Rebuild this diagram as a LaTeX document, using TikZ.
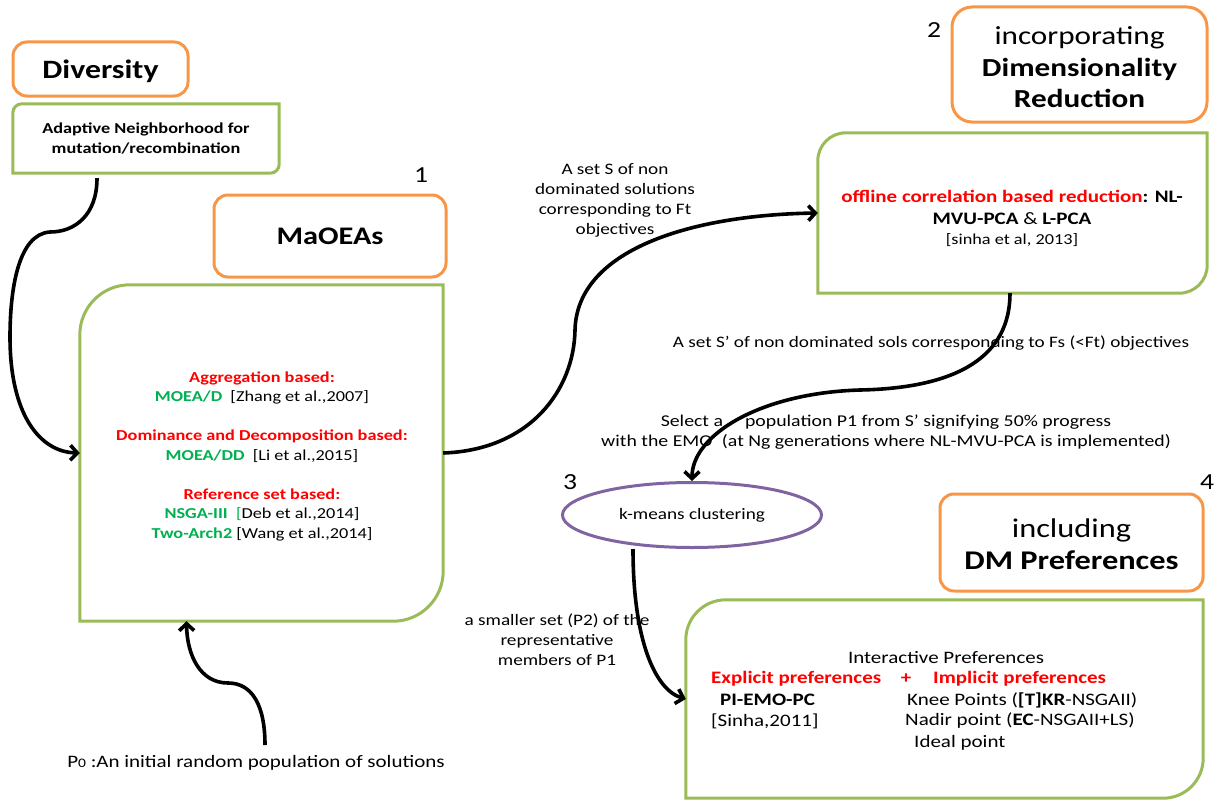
\documentclass[tikz,border=0pt]{standalone}
\usepackage{fontspec}
\setmainfont{Carlito}[FakeStretch=1.2]
\usetikzlibrary{arrows.meta,shapes.geometric,calc}
\definecolor{orangec}{HTML}{F79646}
\definecolor{greenc}{HTML}{9BBB59}
\definecolor{purplec}{HTML}{8064A2}
\definecolor{redc}{HTML}{FF0000}
\definecolor{gtext}{HTML}{00B050}
\newcommand\fsz[2]{\fontsize{#1}{#2}\selectfont}
\newcommand\diagframe[2]{%
  \draw[gline] (#1.north east) -- ([yshift=#2]#1.south east)
    arc[start angle=0,end angle=-90,radius=#2] -- (#1.south west)
    -- ([yshift=-#2]#1.north west) arc[start angle=180,end angle=90,radius=#2] -- cycle;}
\begin{document}
\begin{tikzpicture}[x=1pt,y=-1pt,
  obox/.style={draw=orangec, line width=3pt, rounded corners=14pt, inner sep=0pt, align=center},
  gbox/.style={draw=none, inner sep=0pt, align=center},
  gline/.style={draw=greenc, line width=3pt},
  txt/.style={inner sep=0pt, align=center},
  conn/.style={line width=3.6pt, -{Straight Barb[length=7pt,width=15pt,line width=3.6pt]}},
  num/.style={inner sep=0pt, font=\fsz{23}{26}}
]
\useasboundingbox (0,0) rectangle (1218,800);

% Diversity
\node[obox, minimum width=175pt, minimum height=54pt] (div) at (100.5,69) {};
\node[txt, font=\fsz{26.5}{32}\bfseries] (divt) at (100.5,71) {Diversity};
\node[gbox, minimum width=266pt, minimum height=69pt, font=\fsz{15.2}{20}\bfseries] (adapt) at (146,138.5)
  {Adaptive Neighborhood for\\mutation/recombination};
\diagframe{adapt}{9pt}

% MaOEAs
\node[num] (n1) at (421,175) {1};
\node[obox, minimum width=232pt, minimum height=82pt, font=\fsz{25.3}{30}\bfseries] (mhead) at (330,236) {MaOEAs};
\node[gbox, minimum width=363pt, minimum height=336pt] (mbox) at (261.5,453) {};
\diagframe{mbox}{50pt}
\node[txt, font=\fsz{15.2}{19.5}] (mtext) at (262,456) {%
  \textcolor{redc}{\bfseries Aggregation based:}\\
  \textcolor{gtext}{\bfseries MOEA/D}\ \ [Zhang et al.,2007]\\[19.5pt]
  \textcolor{redc}{\bfseries Dominance and Decomposition based:}\\
  \textcolor{gtext}{\bfseries MOEA/DD}\ \ [Li et al.,2015]\\[19.5pt]
  \textcolor{redc}{\bfseries Reference set based:}\\
  \textcolor{gtext}{\bfseries NSGA-III}\ \ \textcolor{gtext}{[}Deb et al.,2014]\\
  \textcolor{gtext}{\bfseries Two-Arch2} [Wang et al.,2014]};

% Dimensionality reduction
\node[num] (n2) at (934,30) {2};
\node[obox, minimum width=255pt, minimum height=115pt, rounded corners=20pt] (dhead) at (1079.5,64.5) {};
\node[txt, font=\fsz{26}{31.5}] (dheadt) at (1079.5,67.5)
  {incorporating\\\textbf{Dimensionality}\\\textbf{Reduction}};
\node[gbox, minimum width=389pt, minimum height=160pt] (off) at (1012.5,213) {};
\diagframe{off}{28pt}
\node[txt, font=\fsz{17.5}{22}\bfseries] (offtext) at (1012,207) {%
  \textcolor{redc}{offline correlation based reduction}: NL-\\
  MVU-PCA {\mdseries\&} L-PCA};
\node[txt, font=\fsz{15.2}{17}] (offcite) at (1012,240) {[sinha et al, 2013]};

% k-means
\node[num] (n3) at (570,482) {3};
\node[draw=purplec, line width=3pt, ellipse, minimum width=259pt, minimum height=65pt, inner sep=0pt,
  font=\fsz{16}{19}] (km) at (692,515) {k-means clustering};

% DM preferences
\node[num] (n4) at (1207,482) {4};
\node[obox, minimum width=263pt, minimum height=97pt] (dmhead) at (1071.5,542.5) {};
\node[txt, font=\fsz{27}{32}] (dmheadt) at (1071.5,544.5) {including\\\textbf{DM Preferences}};
\node[gbox, minimum width=517pt, minimum height=198pt] (pref) at (944.5,699) {};
\diagframe{pref}{40pt}
\begin{scope}[every node/.style={inner sep=0pt, font=\fsz{17.5}{21}}]
  \node (ip) at (946,658) {Interactive Preferences};
  \node[anchor=west, text=redc, font=\fsz{17.5}{21}\bfseries] (ep) at (711,679) {Explicit preferences};
  \node[text=redc, font=\fsz{17.5}{21}\bfseries] (plus) at (906,679) {+};
  \node[anchor=west, text=redc, font=\fsz{17.5}{21}\bfseries] (imp) at (933,679) {Implicit preferences};
  \node[anchor=west, font=\fsz{17.5}{21}\bfseries] (pie) at (720,700) {PI-EMO-PC};
  \node[anchor=west] (knee) at (907,700) {Knee Points (\textbf{[T]KR}-NSGAII)};
  \node[anchor=west] (sin) at (711,721) {[Sinha,2011]};
  \node[anchor=west] (nad) at (905,721) {Nadir point (\textbf{EC}-NSGAII+LS)};
  \node[anchor=west] (ide) at (914,743) {Ideal point};
\end{scope}

% connector labels
\begin{scope}[every node/.style={txt, font=\fsz{16.5}{20}}]
  \node[font=\fsz{16}{20}] (lS) at (615,200) {A set S of non\\dominated solutions\\corresponding to Ft\\objectives};
  \node[font=\fsz{16}{20}] (lSp) at (931,343) {A set S’ of non dominated sols corresponding to Fs (<Ft) objectives};
  \node (lsel) at (886,432) {Select a\hspace{22pt}population P1 from S’ signifying 50\% progress\\with the EMO\hspace{5pt} (at Ng generations where NL-MVU-PCA is implemented)};
  \node[font=\fsz{16}{20}] (lP2) at (557,640) {a smaller set (P2) of the\\representative\\members of P1};
  \node[font=\fsz{17.5}{20}] (lP0) at (256,763) {P{\fsz{13}{13}0} :An initial random population of solutions};
\end{scope}

% connectors
\coordinate (p0s) at (265,745);
\draw[conn] ([xshift=-49pt,yshift=-5pt]adapt.south) .. controls (97,215) and (75,232) .. (50,232)
  .. controls (18,234) and (10,290) .. (10,337)
  .. controls (10,415) and (40,452) .. (mbox.west);
\draw[conn] (p0s) .. controls (265,705) and (252,683) .. (228,683)
  .. controls (200,683) and (187,655) .. ([xshift=-75pt]mbox.south);
\draw[conn] (mbox.east) .. controls (530,450) and (574,390) .. (575,330)
  .. controls (577,250) and (690,215) .. (off.west);
\draw[conn] ([xshift=-2.5pt]off.south) .. controls (1010,355) and (960,388) .. (860,390)
  .. controls (760,393) and (692,435) .. (km.north);
\draw[conn] ([xshift=-59pt]km.south) .. controls (633,640) and (655,690) .. (pref.west);
\end{tikzpicture}
\end{document}
